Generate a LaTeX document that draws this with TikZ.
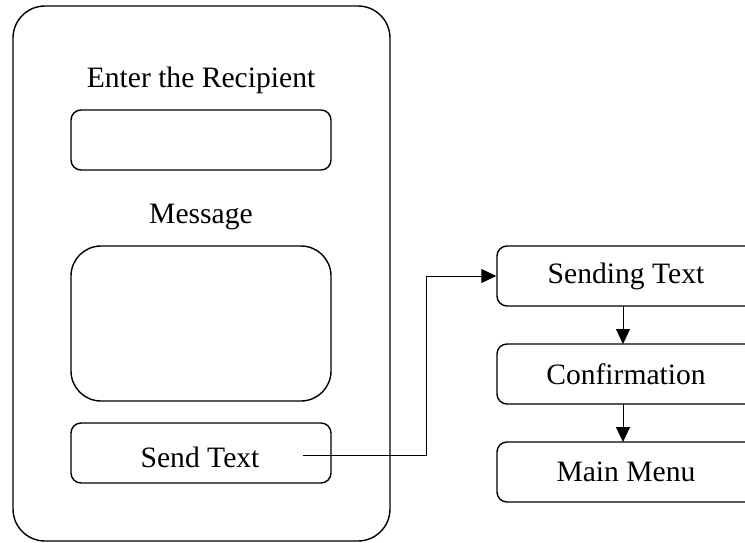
\documentclass[tikz,border=0pt]{standalone}
\usepackage{fontspec}
\setmainfont{Liberation Serif}
\usetikzlibrary{arrows.meta}
\begin{document}
\begin{tikzpicture}[x=1pt,y=-1pt,
  box/.style={draw,line width=1.4pt,rounded corners=#1,inner sep=0pt},
  box/.default=10pt,
  lbl/.style={font=\fontsize{29.6}{34}\selectfont,inner sep=0pt},
  conn/.style={line width=1pt,-{Triangle[length=15pt,width=14pt]}}]
\useasboundingbox (0,0) rectangle (745,543);
\clip (0,0) rectangle (745,543);
% phone outline
\draw[line width=1.4pt,rounded corners=32pt] (13,6) rectangle (390,541);
\node[lbl] (enter) at (201,80) {Enter the Recipient};
\node[box,minimum width=260pt,minimum height=60pt] (recip) at (201,140) {};
\node[lbl] (msg) at (201,217) {Message};
\node[box=30pt,minimum width=260pt,minimum height=155pt] (msgbox) at (201,323.5) {};
\node[box,minimum width=260pt,minimum height=60pt] (send) at (201,453) {};
\node[lbl] (sendtxt) at (200,457) {Send Text};
\coordinate (sendout) at (303,455);
% right column
\node[box,minimum width=258pt,minimum height=60pt,lbl] (sending) at (626,276) {Sending Text};
\node[box,minimum width=258pt,minimum height=60pt,lbl] (confirm) at (626,374) {Confirmation};
\node[box,minimum width=258pt,minimum height=60pt,lbl] (mainmenu) at (626,472) {Main Menu};
% connectors
\draw[conn] (sendout) -- (426,455) |- (sending.west);
\draw[conn] (623,306) -- (623,344);
\draw[conn] (623,404) -- (623,442);
\end{tikzpicture}
\end{document}
